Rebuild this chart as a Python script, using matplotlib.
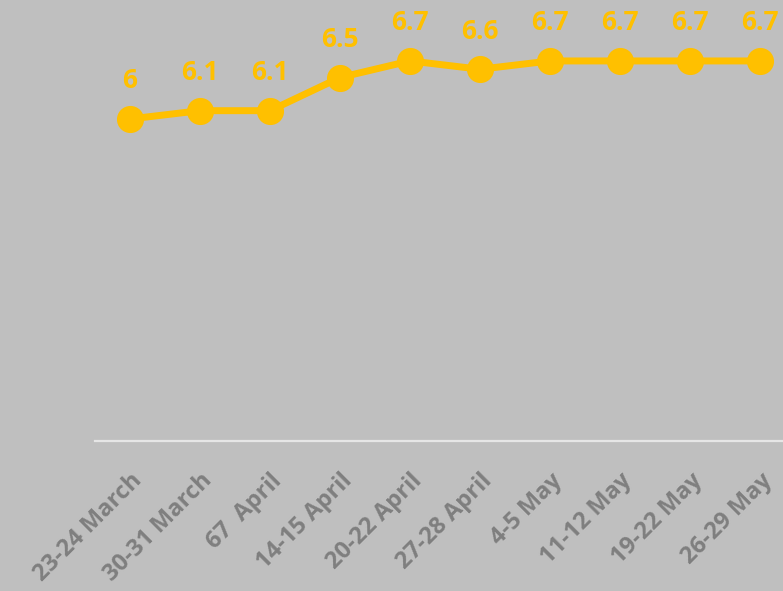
import matplotlib.pyplot as plt

weeks = ['23-24 March', '30-31 March', '67  April', '14-15 April', '20-22 April',
         '27-28 April', '4-5 May', '11-12 May', '19-22 May', '26-29 May']
scores = [6.0, 6.1, 6.1, 6.5, 6.7, 6.6, 6.7, 6.7, 6.7, 6.7]
labels = ['6', '6.1', '6.1', '6.5', '6.7', '6.6', '6.7', '6.7', '6.7', '6.7']

bg = '#bfbfbf'
yellow = '#ffc000'
grey = '#7f7f7f'

plt.rcParams['font.family'] = ['Open Sans', 'DejaVu Sans']

fig = plt.figure(figsize=(7.83, 5.91), dpi=100, facecolor=bg)
ax = fig.add_axes([95 / 783, 150 / 591, 700 / 783, 441 / 591])
ax.set_facecolor(bg)

x = range(len(weeks))
ax.plot(x, scores, color=yellow, lw=5, marker='o', ms=18.5, zorder=3, clip_on=False)
for xi, v, t in zip(x, scores, labels):
    ax.annotate(t, (xi, v), xytext=(0, 22), textcoords='offset points',
                ha='center', va='baseline', color=yellow, fontsize=19, fontweight='bold')

ax.set_xlim(-0.5, len(weeks) - 0.5)
ax.set_ylim(2.116, 7.435)
ax.set_yticks([])
ax.set_xticks(list(x))
ax.set_xticklabels(weeks, rotation=45, ha='right', va='top', rotation_mode='anchor',
                   color=grey, fontsize=17, fontweight='bold')
ax.tick_params(axis='x', length=0, pad=20)
for s in ['top', 'left', 'right']:
    ax.spines[s].set_visible(False)
ax.spines['bottom'].set_color('#e6e6e6')
ax.spines['bottom'].set_linewidth(1.6)

fig.savefig('out.png', dpi=100, facecolor=bg)
